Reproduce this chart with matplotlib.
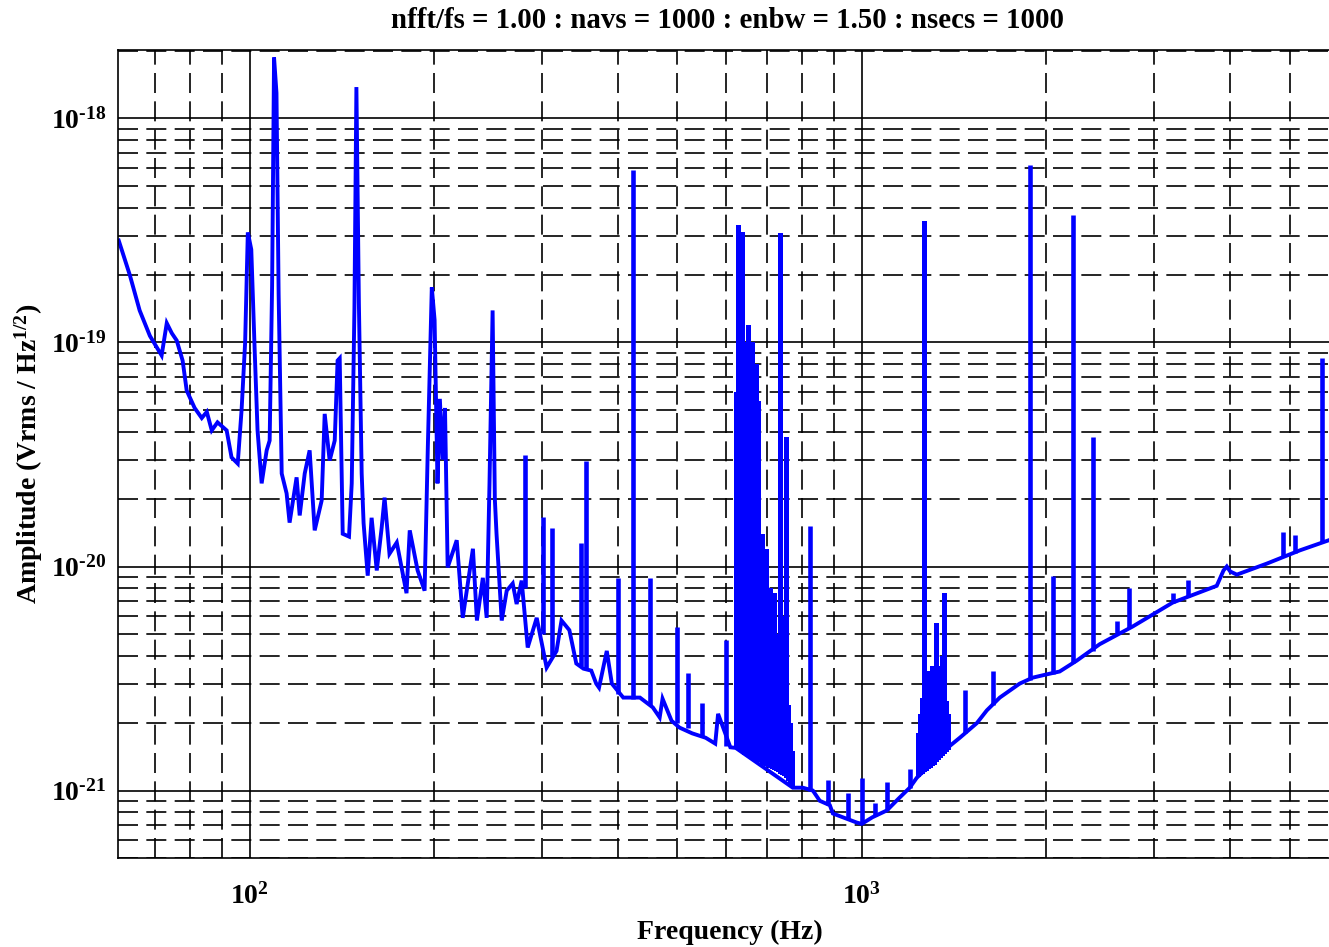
import numpy as np
import matplotlib
matplotlib.use("Agg")
import matplotlib.pyplot as plt
from matplotlib.ticker import FixedLocator, FuncFormatter, NullFormatter

# noise floor of the spectrum (Hz, Vrms/rtHz)
floor_hz = [61.1, 63.7, 66.1, 68.7, 71.8, 73.2, 74.6, 76.0, 77.7, 78.9, 81.3, 83.5,
            85.1, 86.7, 88.6, 91.7, 93.4, 95.6, 97.0, 98.3, 99.3, 100.6, 101.9, 103.0,
            104.6, 106.6, 107.8, 108.8, 109.6, 110.6, 111.5, 112.8, 114.9, 116.2, 119.3,
            120.7, 123.0, 125.3, 127.7, 131.1, 132.6, 135.1, 137.7, 139.2, 140.3, 141.9,
            145.3, 146.8, 148.3, 149.4, 150.8, 152.4, 153.5, 155.9, 158.2, 161.3, 164.3,
            166.1, 169.2, 173.9, 180.4, 182.6, 188.1, 193.1, 195.4, 198.4, 200.5, 202.7,
            204.5, 206.6, 208.5, 210.6, 217.9, 222.9, 231.6, 235.1, 240.4, 243.9, 246.5,
            249.4, 251.5, 253.1, 258.1, 263.0, 269.0, 273.0, 278.2, 284.6, 294.4,
            305.6, 317.2, 323.2, 332.9, 341.7, 351.0, 361.5,
            368.3, 372.2, 383.2, 390.6, 407.7, 434.1, 455.7,
            467.6, 472.7, 488.9, 503.8, 528.5, 556.0, 576.3, 582.5,
            610.0, 622.6, 771.5, 801, 832, 854, 887, 897, 931, 981, 1000, 1041, 1099,
            1153, 1198, 1230, 1392, 1446, 1542, 1601, 1681, 1811, 1902, 2005, 2106, 2245,
            2448, 2772, 3221, 3802, 3900, 3949, 4000, 4101, 4589, 5196, 5795, 6000]
floor_amp = [2.85e-19, 2.0e-19, 1.39e-19, 1.07e-19, 8.75e-20, 1.22e-19, 1.1e-19, 1.02e-19,
             8.3e-20, 6.1e-20, 5.1e-20, 4.6e-20, 4.9e-20, 4.05e-20, 4.4e-20, 4.05e-20,
             3.07e-20, 2.88e-20, 5.0e-20, 1.0e-19, 3.1e-19, 2.6e-19, 9.2e-20, 4.05e-20,
             2.35e-20, 3.3e-20, 3.65e-20, 1.8e-19, 1.87e-18, 1.3e-18, 1.65e-19, 2.6e-20,
             2.12e-20, 1.57e-20, 2.5e-20, 1.69e-20, 2.6e-20, 3.3e-20, 1.45e-20, 1.97e-20,
             4.8e-20, 2.97e-20, 3.65e-20, 8.3e-20, 8.5e-20, 1.4e-20, 1.36e-20, 2.35e-20,
             1.42e-19, 1.38e-18, 1.5e-19, 2.6e-20, 1.56e-20, 9.1e-21, 1.65e-20, 9.6e-21,
             1.49e-20, 2.03e-20, 1.14e-20, 1.28e-20, 7.6e-21, 1.45e-20, 9.6e-21, 7.8e-21,
             3.3e-20, 1.76e-19, 1.26e-19, 2.35e-20, 5.6e-20, 3.0e-20, 5.1e-20, 9.9e-21,
             1.31e-20, 5.9e-21, 1.2e-20, 5.74e-21, 8.9e-21, 5.9e-21, 2.35e-20, 1.39e-19,
             2.0e-20, 1.4e-20, 5.74e-21, 7.8e-21, 8.4e-21, 6.8e-21, 8.65e-21,
             4.35e-21, 5.9e-21, 3.54e-21, 4.2e-21, 5.74e-21, 5.2e-21,
             3.69e-21, 3.5e-21, 3.43e-21, 3.0e-21, 2.88e-21, 4.2e-21,
             3.0e-21, 2.6e-21, 2.6e-21, 2.35e-21,
             2.12e-21, 2.57e-21, 2.05e-21, 1.91e-21, 1.8e-21, 1.72e-21, 1.62e-21, 2.2e-21,
             1.56e-21, 1.55e-21, 1.03e-21, 1.03e-21, 1.0e-21, 9.0e-22, 8.6e-22, 7.9e-22,
             7.6e-22, 7.2e-22, 7.1e-22, 7.6e-22, 8.15e-22, 9.3e-22, 1.03e-21, 1.14e-21,
             1.58e-21, 1.72e-21, 2.0e-21, 2.28e-21, 2.6e-21, 3.0e-21, 3.19e-21, 3.3e-21,
             3.4e-21, 3.8e-21, 4.5e-21, 5.4e-21, 6.9e-21, 8.2e-21, 9.6e-21, 1.0e-20,
             9.5e-21, 9.2e-21, 1.03e-20, 1.18e-20, 1.31e-20, 1.35e-20]

# narrow spectral lines: frequency, foot, peak
line_hz = [281.4, 301.1, 311.3, 348.2, 354.8, 400.0, 422.4, 450.8, 498.2, 519.2, 548.1,
           600.0, 822, 881, 948, 1000, 1050, 1099, 1198, 1474, 1637, 1882, 2051, 2212,
           2385, 2611, 2731, 3221, 3410, 4874, 5099, 5646]
line_base = [8.0e-21, 5.0e-21, 4.0e-21, 3.6e-21, 3.5e-21, 2.7e-21, 2.55e-21, 2.4e-21,
             2.0e-21, 1.9e-21, 1.75e-21, 1.58e-21, 1.0e-21, 8.6e-22, 7.5e-22, 7.1e-22,
             7.7e-22, 8.15e-22, 1.03e-21, 1.8e-21, 2.4e-21, 3.1e-21, 3.3e-21, 3.7e-21,
             4.2e-21, 5.0e-21, 5.3e-21, 6.9e-21, 7.3e-21, 1.1e-20, 1.15e-20, 1.29e-20]
line_top = [3.13e-20, 1.66e-20, 1.49e-20, 1.27e-20, 2.97e-20, 8.9e-21, 5.86e-19, 8.9e-21,
            5.35e-21, 3.36e-21, 2.47e-21, 4.68e-21, 1.52e-20, 1.11e-21, 9.8e-22, 1.14e-21,
            8.8e-22, 1.09e-21, 1.25e-21, 2.8e-21, 3.43e-21, 6.2e-19, 9.1e-21, 3.7e-19,
            3.8e-20, 5.74e-21, 8.05e-21, 7.65e-21, 8.7e-21, 1.43e-20, 1.38e-20, 8.5e-20]

# dense groups of lines around 620-770 Hz and 1230-1390 Hz
group1_hz = [622.6, 627.3, 632.0, 636.8, 641.6, 646.4, 651.3, 656.2, 661.2, 666.2, 671.2,
             676.3, 681.4, 686.5, 691.7, 696.9, 702.2, 707.5, 712.8, 718.2, 723.6, 729.1,
             734.6, 740.1, 745.7, 751.3, 757.0, 762.7, 768.5]
group1_top = [6e-20, 3.33e-19, 1.5e-19, 3.1e-19, 1e-19, 7e-20, 1.2e-19, 8e-20, 1e-19, 6e-20,
              8e-20, 5.5e-20, 1.2e-20, 1.4e-20, 1.1e-20, 1.2e-20, 7.6e-21, 8e-21, 7e-21,
              7.6e-21, 5e-21, 4e-21, 3.07e-19, 3e-21, 6e-21, 3.8e-20, 2.4e-21, 2e-21, 1.5e-21]
group1_base = [1.55e-21, 1.53e-21, 1.5e-21, 1.48e-21, 1.46e-21, 1.45e-21, 1.44e-21,
               1.42e-21, 1.4e-21, 1.39e-21, 1.38e-21, 1.36e-21, 1.35e-21, 1.33e-21,
               1.32e-21, 1.3e-21, 1.29e-21, 1.28e-21, 1.26e-21, 1.25e-21, 1.23e-21,
               1.22e-21, 1.2e-21, 1.19e-21, 1.17e-21, 1.15e-21, 1.12e-21, 1.08e-21, 1.05e-21]
group2_hz = [1234.6, 1243.9, 1253.3, 1262.8, 1272.3, 1281.9, 1291.6, 1301.3, 1311.1,
             1321.0, 1331.0, 1341.1, 1351.2, 1361.4, 1371.7, 1382.0]
group2_top = [1.8e-21, 2.2e-21, 2.6e-21, 3.5e-19, 3e-21, 3.4e-21, 3.2e-21, 3.6e-21,
              3.4e-21, 5.57e-21, 3.6e-21, 3.0e-21, 4.0e-21, 7.65e-21, 2.5e-21, 2.2e-21]
group2_base = [1.16e-21, 1.18e-21, 1.2e-21, 1.22e-21, 1.24e-21, 1.26e-21, 1.28e-21,
               1.3e-21, 1.32e-21, 1.35e-21, 1.38e-21, 1.41e-21, 1.44e-21, 1.47e-21,
               1.5e-21, 1.53e-21]

title = "nfft/fs = 1.00 : navs = 1000 : enbw = 1.50 : nsecs = 1000"

plt.rcParams["font.family"] = ["Liberation Serif", "DejaVu Serif"]
plt.rcParams["font.weight"] = "bold"
plt.rcParams["mathtext.fontset"] = "custom"
plt.rcParams["mathtext.rm"] = "Liberation Serif:bold"
plt.rcParams["mathtext.it"] = "Liberation Serif:bold:italic"
plt.rcParams["mathtext.bf"] = "Liberation Serif:bold"
plt.rcParams["mathtext.default"] = "rm"

W, H = 1329, 947
fig = plt.figure(figsize=(W / 100, H / 100), dpi=100)
# axes box in pixels: left 118, right ~1338 (just past the edge), top 50, bottom 858
ax = fig.add_axes([118.3 / W, (H - 858) / H, (1338 - 118.3) / W, (858 - 50) / H])

blue = (0, 0, 1)
ax.plot(floor_hz, floor_amp, color=blue, lw=2.8, solid_joinstyle="miter")
ax.vlines(line_hz, line_base, line_top, color=blue, lw=3.3, capstyle="butt")
ax.vlines(group1_hz, group1_base, group1_top, color=blue, lw=3.6, capstyle="butt",
          antialiased=False)
ax.vlines(group2_hz, group2_base, group2_top, color=blue, lw=3.6, capstyle="butt",
          antialiased=False)

ax.set_xscale("log")
ax.set_yscale("log")
ax.set_xlim(61.0, 6000)
ax.set_ylim(5e-22, 2.02e-18)

x_minor = [m * 10.0 ** e for e in (1, 2, 3) for m in range(2, 10)]
y_minor = [m * 10.0 ** e for e in (-22, -21, -20, -19, -18) for m in range(2, 10)]
ax.xaxis.set_major_locator(FixedLocator([100, 1000]))
ax.yaxis.set_major_locator(FixedLocator([1e-21, 1e-20, 1e-19, 1e-18]))
ax.xaxis.set_minor_locator(FixedLocator([v for v in x_minor if 61 <= v <= 6000]))
ax.yaxis.set_minor_locator(FixedLocator([v for v in y_minor if 5e-22 <= v <= 2.02e-18]))


def pow10(v, pos):
    e = int(round(np.log10(v)))
    if e < 0:
        return r"$10^{\text{-%d}}$" % (-e)
    return r"$10^{%d}$" % e


for axis in (ax.xaxis, ax.yaxis):
    axis.set_minor_formatter(NullFormatter())
    axis.set_major_formatter(FuncFormatter(pow10))

ax.grid(which="major", color="k", lw=1.2, ls="-")
ax.grid(which="minor", color="k", lw=1.2, ls=(0, (12, 5)))
ax.tick_params(which="both", length=0, labelsize=20)
ax.tick_params(axis="x", pad=18)
ax.tick_params(axis="y", pad=9)
for s in ax.spines.values():
    s.set_linewidth(1.2)
    s.set_color("k")

fig.text(727.5 / W, 1 - 21 / H, title, ha="center", va="center", fontsize=20.8)
fig.text(729.5 / W, 1 - 932 / H, "Frequency (Hz)", ha="center", va="center", fontsize=20)
fig.text(29 / W, 1 - 454 / H, r"Amplitude (Vrms / Hz$^{1/2}$)", ha="center",
         va="center", rotation=90, fontsize=20)

fig.savefig("out.png", dpi=100)
